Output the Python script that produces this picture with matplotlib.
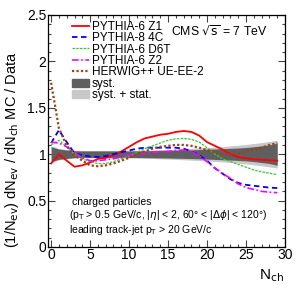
import matplotlib
matplotlib.use("Agg")
import matplotlib.pyplot as plt
from matplotlib.patches import Patch
from matplotlib.lines import Line2D
from matplotlib.ticker import MultipleLocator

plt.rcParams['font.family'] = ['Liberation Sans', 'DejaVu Sans']

nch = list(range(30))
z1 = [0.90, 1.00, 0.93, 0.865, 0.88, 0.91, 0.95, 0.96, 0.99, 1.03, 1.08, 1.13, 1.17, 1.19, 1.21,
      1.22, 1.24, 1.25, 1.24, 1.20, 1.13, 1.09, 1.05, 1.00, 0.97, 0.955, 0.945, 0.94, 0.935, 0.93]
p8_4c = [1.12, 1.26, 1.13, 1.01, 0.99, 0.975, 0.97, 0.98, 1.00, 1.02, 1.04, 1.06, 1.07, 1.07, 1.07,
         1.07, 1.07, 1.06, 1.03, 0.99, 0.93, 0.85, 0.79, 0.73, 0.69, 0.67, 0.66, 0.65, 0.64, 0.635]
d6t = [1.10, 1.15, 1.08, 1.00, 0.95, 0.92, 0.90, 0.90, 0.92, 0.95, 0.98, 1.02, 1.06, 1.09, 1.12,
       1.15, 1.165, 1.17, 1.16, 1.13, 1.07, 1.00, 0.95, 0.92, 0.89, 0.86, 0.83, 0.81, 0.795, 0.78]
z2 = [1.13, 1.12, 1.08, 1.02, 0.96, 0.93, 0.93, 0.94, 0.95, 0.97, 0.99, 1.00, 1.01, 1.02, 1.025,
      1.03, 1.04, 1.045, 1.03, 0.98, 0.92, 0.85, 0.79, 0.74, 0.68, 0.64, 0.62, 0.60, 0.59, 0.585]
herwig = [1.77, 1.28, 1.09, 0.99, 0.93, 0.88, 0.87, 0.88, 0.90, 0.93, 0.96, 1.00, 1.03, 1.06, 1.08,
          1.09, 1.10, 1.10, 1.09, 1.07, 1.045, 1.02, 1.00, 0.99, 1.01, 1.03, 1.05, 1.07, 1.10, 1.12]
syst_err = [0.08, 0.055, 0.045, 0.037, 0.035, 0.035, 0.035, 0.035, 0.035, 0.035, 0.035, 0.036, 0.037, 0.038, 0.04,
            0.041, 0.043, 0.045, 0.047, 0.05, 0.053, 0.056, 0.06, 0.063, 0.067, 0.072, 0.08, 0.09, 0.10, 0.12]
tot_err = [0.09, 0.062, 0.05, 0.042, 0.04, 0.04, 0.04, 0.04, 0.04, 0.04, 0.04, 0.042, 0.044, 0.046, 0.05,
           0.053, 0.056, 0.06, 0.064, 0.068, 0.073, 0.078, 0.083, 0.09, 0.097, 0.105, 0.115, 0.125, 0.137, 0.15]
labels = ["PYTHIA-6 Z1", "PYTHIA-8 4C", "PYTHIA-6 D6T", "PYTHIA-6 Z2", "HERWIG++ UE-EE-2"]

fig = plt.figure(figsize=(2.97, 2.85), dpi=100)
ax = fig.add_axes([48/297, 1-247/285, (285-48)/297, (247-15)/285])

lo_t = [1 - e for e in tot_err]; hi_t = [1 + e for e in tot_err]
lo_s = [1 - e for e in syst_err]; hi_s = [1 + e for e in syst_err]
ax.fill_between(nch, lo_t, hi_t, color='#c8c8c8', lw=0, zorder=1)
ax.fill_between(nch, lo_s, hi_s, color='#5f5f5f', lw=0, zorder=2)

styles = [
    dict(color='#ff0000', ls='-', lw=1.3),
    dict(color='#0000ff', ls=(0, (3, 2)), lw=1.3),
    dict(color='#33cc33', ls=(0, (2, 1)), lw=0.9),
    dict(color='#ff00ff', ls=(0, (4, 1.5, 1, 1.5)), lw=1.2),
    dict(color='#a0411a', ls=(0, (1, 1)), lw=1.6),
]
handles = []
for data, st, lab in zip([z1, p8_4c, d6t, z2, herwig], styles, labels):
    ax.plot(nch, data, zorder=3, **st)
    handles.append(Line2D([], [], **st, label=lab))
handles.append(Patch(color='#5f5f5f', label='syst.'))
handles.append(Patch(color='#c8c8c8', label='syst. + stat.'))

leg = ax.legend(handles=handles, loc='upper left', bbox_to_anchor=(0.1, 0.975), frameon=False,
                fontsize=8.5, handlelength=1.5, handletextpad=0.2, labelspacing=-0.05, borderpad=0.0,
                borderaxespad=0.0)

ax.set_xlim(-0.4, 30)
ax.set_ylim(0, 2.5)
ax.xaxis.set_major_locator(MultipleLocator(5))
ax.xaxis.set_minor_locator(MultipleLocator(1))
ax.yaxis.set_major_locator(MultipleLocator(0.5))
ax.yaxis.set_minor_locator(MultipleLocator(0.1))
ax.tick_params(which='both', direction='in', top=True, right=True, labelsize=10, width=0.8, color='#444444')
ax.tick_params(which='major', length=5, pad=1)
ax.tick_params(which='minor', length=2.5)
ax.set_yticks([0, 0.5, 1, 1.5, 2, 2.5])
ax.set_yticklabels(['0', '0.5', '1', '1.5', '2', '2.5'])
for s in ax.spines.values():
    s.set_linewidth(0.9)

ax.text(0.52, 0.96, r'CMS $\sqrt{\rm s}$ = 7 TeV', transform=ax.transAxes, fontsize=8.8, va='top', ha='left')
ax.text(0.10, 0.195, 'charged particles', transform=ax.transAxes, fontsize=7.5, va='center')
ax.text(0.088, 0.14, r'(p$_{\rm T}$ > 0.5 GeV/c, |$\eta$| < 2, 60° < |$\Delta\phi$| < 120°)',
        transform=ax.transAxes, fontsize=7.5, va='center')
ax.text(0.088, 0.075, r'leading track-jet p$_{\rm T}$ > 20 GeV/c', transform=ax.transAxes, fontsize=7.5, va='center')

fig.text(284/297, 1-276/285, r'N$_{\rm ch}$', fontsize=11, ha='right', va='center')
fig.text(12/297, 1-150/285, r'(1/N$_{\rm ev}$) dN$_{\rm ev}$ / dN$_{\rm ch}$ MC / Data', fontsize=10.5,
         rotation=90, ha='center', va='center')

fig.savefig('out.png', dpi=100)
